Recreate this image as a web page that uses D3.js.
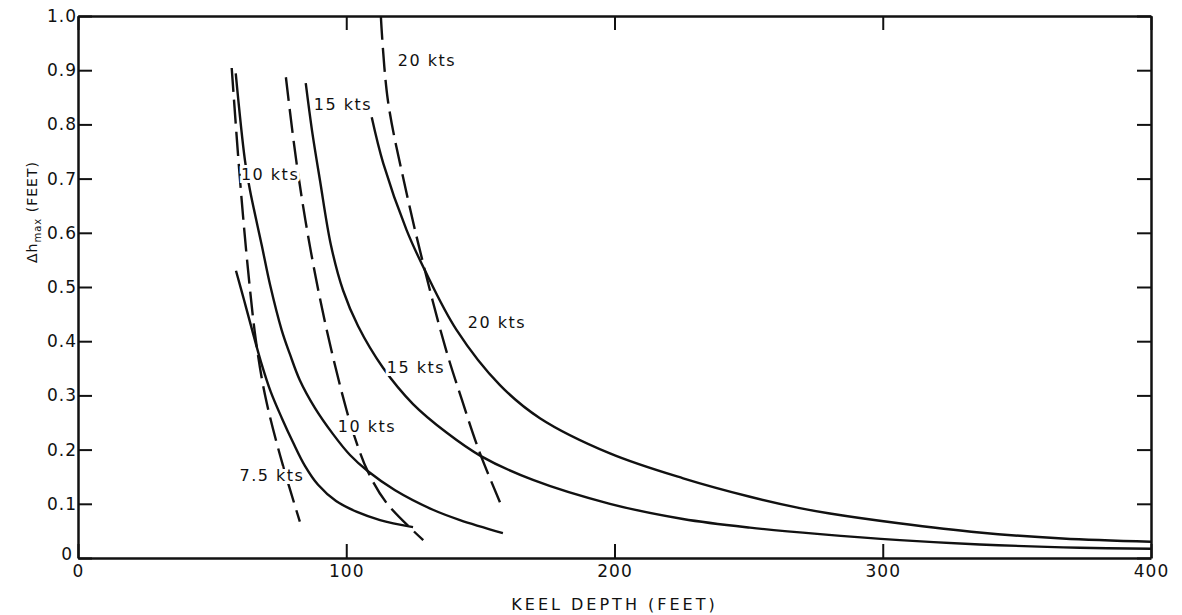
<!DOCTYPE html>
<html>
<head>
<meta charset="utf-8">
<script src="https://cdn.jsdelivr.net/npm/d3@7.9.0/dist/d3.min.js"></script>
<style>
  body { margin: 0; background: #fff; }
  svg { display: block; }
  .axis text { font-family: "DejaVu Sans", sans-serif; font-size: 17px; fill: #111; letter-spacing: 1px; }
  .axis path, .axis line { stroke: #111; }
  .lbl { font-family: "DejaVu Sans", sans-serif; font-size: 16px; fill: #111; letter-spacing: 1.5px; }
</style>
</head>
<body>
<svg width="1182" height="615"></svg>
<script>
// keel depth (ft), delta h max (ft)
const solid7_5 = [[58.9, 0.53], [61.9, 0.476], [64.9, 0.421], [68.2, 0.362], [71.9, 0.306], [76.0, 0.258], [80.1, 0.214], [84.6, 0.17], [89.5, 0.135], [96.2, 0.105], [104.0, 0.085], [112.6, 0.07], [124.9, 0.057]];
const solid10 = [[58.8, 0.894], [62.2, 0.735], [64.1, 0.679], [68.5, 0.577], [71.6, 0.504], [75.9, 0.421], [79.0, 0.376], [82.7, 0.328], [88.3, 0.277], [95.0, 0.229], [101.4, 0.19], [108.1, 0.16], [118.2, 0.125], [132.3, 0.089], [142.4, 0.07], [158.4, 0.046]];
const solid15 = [[84.9, 0.876], [87.2, 0.79], [90.2, 0.697], [94.3, 0.577], [98.8, 0.494], [104.4, 0.428], [113.7, 0.351], [124.9, 0.284], [137.5, 0.231], [150.2, 0.188], [169.6, 0.144], [198.3, 0.1], [225.5, 0.072], [250.5, 0.056], [276.6, 0.044], [306.4, 0.033], [336.2, 0.025], [373.5, 0.019], [400, 0.017]];
const solid20 = [[109.5, 0.813], [113.8, 0.728], [122.5, 0.605], [129.3, 0.531], [141.1, 0.421], [157.3, 0.319], [172.2, 0.258], [198.3, 0.193], [225.6, 0.147], [250.5, 0.113], [269.1, 0.092], [280.3, 0.082], [306, 0.064], [336, 0.047], [367, 0.036], [400, 0.03]];

const dashedA = [[57.3, 0.904], [60.4, 0.697], [63.4, 0.531], [66.3, 0.402], [69.7, 0.301], [75.3, 0.19], [82.7, 0.067]];
const dashedB = [[77.5, 0.887], [81.5, 0.728], [86.5, 0.574], [92.7, 0.421], [100.1, 0.273], [103.9, 0.212], [108.1, 0.159], [115.1, 0.101], [128.7, 0.033]];
const dashedC = [[112.9, 1.0], [115.5, 0.845], [122.5, 0.673], [129.3, 0.531], [137.2, 0.384], [143.1, 0.292], [149.8, 0.194], [157.3, 0.103]];

const labels = [
  { text: '20 kts', x: 130.1, y: 0.919 },
  { text: '15 kts', x: 98.8, y: 0.836 },
  { text: '10 kts', x: 71.6, y: 0.707 },
  { text: '20 kts', x: 156.2, y: 0.434 },
  { text: '15 kts', x: 126.0, y: 0.351 },
  { text: '10 kts', x: 107.7, y: 0.242 },
  { text: '7.5 kts', x: 72.3, y: 0.153 }
];

const xTicks = [0, 100, 200, 300, 400];
const yTicks = [0, 0.1, 0.2, 0.3, 0.4, 0.5, 0.6, 0.7, 0.8, 0.9, 1.0];

const margin = { top: 16, right: 31, bottom: 57, left: 78 };
const svg = d3.select('svg');
const W = 1182 - margin.left - margin.right;
const H = 615 - margin.top - margin.bottom;
const g = svg.append('g').attr('transform', `translate(${margin.left},${margin.top})`);

const x = d3.scaleLinear().domain([0, 400]).range([0, W]);
const y = d3.scaleLinear().domain([0, 1]).range([H, 0]);

const line = d3.line()
  .x(d => x(d[0]))
  .y(d => y(d[1]))
  .curve(d3.curveCatmullRom.alpha(0.5));

[solid7_5, solid10, solid15, solid20].forEach(pts => {
  g.append('path').attr('d', line(pts))
    .attr('fill', 'none').attr('stroke', '#111').attr('stroke-width', 2.4);
});
[dashedA, dashedB, dashedC].forEach(pts => {
  g.append('path').attr('d', line(pts))
    .attr('fill', 'none').attr('stroke', '#111').attr('stroke-width', 2.4)
    .attr('stroke-dasharray', '24,8');
});

// labels break the lines underneath them
g.selectAll('.lbl').data(labels).join('text')
  .attr('class', 'lbl')
  .attr('x', d => x(d.x)).attr('y', d => y(d.y))
  .attr('text-anchor', 'middle').attr('dy', '0.35em')
  .attr('stroke', '#fff').attr('stroke-width', 6).attr('paint-order', 'stroke')
  .text(d => d.text);

const fmt = d => d === 0 ? '0' : d3.format('.1f')(d);

g.append('g').attr('class', 'axis').attr('transform', `translate(0,${H})`)
  .call(d3.axisBottom(x).tickValues(xTicks).tickSize(-14).tickSizeOuter(0).tickPadding(5))
  .call(a => a.selectAll('text').attr('dy', '0.85em'));
g.append('g').attr('class', 'axis')
  .call(d3.axisTop(x).tickValues(xTicks).tickSize(-14).tickSizeOuter(0).tickFormat(''));
g.append('g').attr('class', 'axis')
  .call(d3.axisLeft(y).tickValues(yTicks).tickSize(-14).tickSizeOuter(0).tickPadding(1).tickFormat(fmt))
  .call(a => a.selectAll('.tick').filter(d => d === 0).select('text').attr('x', -5).attr('dy', '0.1em'));
g.append('g').attr('class', 'axis').attr('transform', `translate(${W},0)`)
  .call(d3.axisRight(y).tickValues(yTicks).tickSize(-14).tickSizeOuter(0).tickFormat(''));

svg.selectAll('.axis path').attr('stroke-width', 2.5);
svg.selectAll('.axis line').attr('stroke-width', 2);

svg.append('text')
  .attr('x', margin.left + x(200)).attr('y', 610)
  .attr('text-anchor', 'middle')
  .attr('font-family', '"DejaVu Sans", sans-serif')
  .attr('font-size', 16).attr('letter-spacing', 3).attr('fill', '#111')
  .text('KEEL DEPTH (FEET)');

const yl = svg.append('text')
  .attr('transform', 'translate(37,212) rotate(-90)')
  .attr('text-anchor', 'middle')
  .attr('font-family', '"DejaVu Sans", sans-serif')
  .attr('font-size', 14).attr('letter-spacing', 1).attr('fill', '#111');
yl.append('tspan').text('Δh');
yl.append('tspan').attr('font-size', 10).attr('dy', 4).text('max');
yl.append('tspan').attr('dy', -4).text(' (FEET)');
</script>
</body>
</html>
